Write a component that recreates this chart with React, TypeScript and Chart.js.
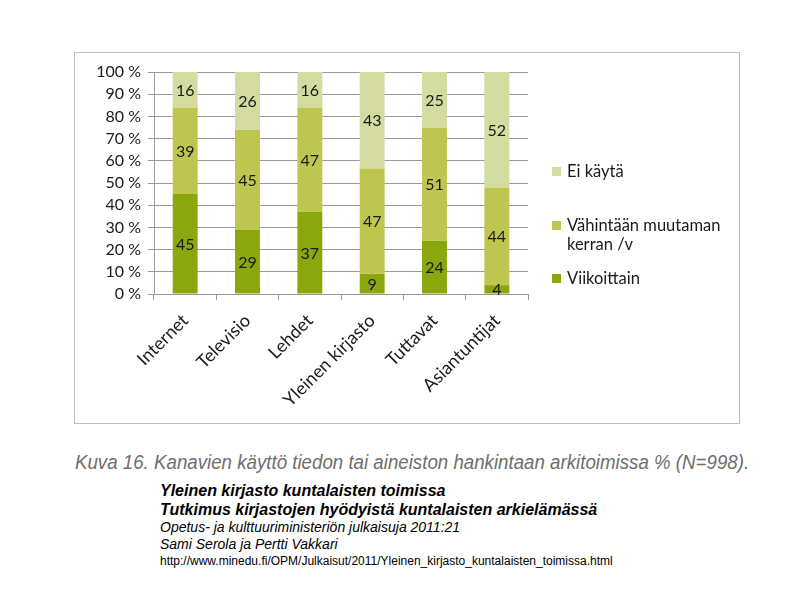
import React, { useEffect, useRef } from "react";
import { Chart, registerables } from "chart.js";

Chart.register(...registerables);

const categories = ["Internet", "Televisio", "Lehdet", "Yleinen kirjasto", "Tuttavat", "Asiantuntijat"];
const viikoittain = [45, 29, 37, 9, 24, 4];
const vahintaan = [39, 45, 47, 47, 51, 44];
const eiKayta = [16, 26, 16, 43, 25, 52];
const seriesNames = ["Viikoittain", "Vähintään muutaman kerran /v", "Ei käytä"];
const seriesColors = ["#8aa80e", "#bfc650", "#d3dba0"];
const yTicks = ["0 %", "10 %", "20 %", "30 %", "40 %", "50 %", "60 %", "70 %", "80 %", "90 %", "100 %"];

const FONT = "Lato, 'Open Sans', sans-serif";

const rawSeries = [viikoittain, vahintaan, eiKayta];
const totals = categories.map((_, i) => rawSeries.reduce((s, arr) => s + arr[i], 0));

const labelPlugin = {
  id: "segLabels",
  afterDatasetsDraw(chart: any) {
    const ctx = chart.ctx;
    ctx.save();
    ctx.font = `16px ${FONT}`;
    ctx.fillStyle = "#1a1a1a";
    ctx.textAlign = "center";
    ctx.textBaseline = "middle";
    chart.data.datasets.forEach((ds: any, di: number) => {
      const meta = chart.getDatasetMeta(di);
      meta.data.forEach((bar: any, i: number) => {
        const y = (bar.y + bar.base) / 2;
        ctx.fillText(String(rawSeries[di][i]), bar.x, y + 1);
      });
    });
    ctx.restore();
  },
};

function ChartBox() {
  const ref = useRef<HTMLCanvasElement>(null);
  useEffect(() => {
    const chart = new Chart(ref.current!, {
      type: "bar",
      data: {
        labels: categories,
        datasets: rawSeries.map((arr, di) => ({
          label: seriesNames[di],
          data: arr.map((v, i) => (v / totals[i]) * 100),
          backgroundColor: seriesColors[di],
          borderWidth: 0,
          barPercentage: 0.4,
          categoryPercentage: 1,
        })),
      },
      options: {
        animation: false,
        responsive: false,
        maintainAspectRatio: false,
        layout: { padding: { left: 0, right: 212, top: 20, bottom: 0 } },
        plugins: { legend: { display: false }, tooltip: { enabled: false } },
        scales: {
          x: {
            stacked: true,
            grid: { offset: true, drawOnChartArea: false, tickLength: 6, color: "#9a9a9a" },
            border: { color: "#9a9a9a" },
            ticks: {
              maxRotation: 45,
              minRotation: 45,
              autoSkip: false,
              color: "#1a1a1a",
              font: { family: FONT, size: 18 },
              padding: 10,
            },
            afterFit(scale: any) {
              scale.height = 130;
            },
          },
          y: {
            stacked: true,
            min: 0,
            max: 100,
            ticks: {
              stepSize: 10,
              color: "#1a1a1a",
              font: { family: FONT, size: 16 },
              padding: 7,
              callback: (_v: any, i: number) => yTicks[i],
            },
            grid: { color: "#9a9a9a", tickLength: 6 },
            border: { color: "#9a9a9a" },
            afterFit(scale: any) {
              scale.width = 80;
            },
          },
        },
      },
      plugins: [labelPlugin],
    });
    return () => chart.destroy();
  }, []);
  return <canvas ref={ref} width={666} height={372} style={{ position: "absolute", left: 0, top: 0, width: 666, height: 372 }} />;
}

export default function App() {
  useEffect(() => {
    document.body.style.margin = "0";
  }, []);
  const legendItems = [
    { name: ["Ei käytä"], color: seriesColors[2], top: 162 },
    { name: ["Vähintään muutaman", "kerran /v"], color: seriesColors[1], top: 216 },
    { name: ["Viikoittain"], color: seriesColors[0], top: 269 },
  ];
  return (
    <div style={{ position: "relative", width: 794, height: 595, background: "#fff", overflow: "hidden" }}>
      <div style={{ position: "absolute", left: 74, top: 52, width: 666, height: 372, boxSizing: "border-box", border: "1px solid #bdbdbd" }} />
      <div style={{ position: "absolute", left: 74, top: 52, width: 666, height: 372 }}>
        <ChartBox />
      </div>
      {legendItems.map((it, k) => (
        <div key={k} style={{ position: "absolute", left: 552, top: it.top, fontFamily: FONT, fontSize: 16.5, color: "#1a1a1a", lineHeight: "19px" }}>
          <div style={{ position: "absolute", left: 0, top: 5, width: 9, height: 9, background: it.color }} />
          <div style={{ marginLeft: 15, whiteSpace: "nowrap" }}>
            {it.name.map((l, j) => (
              <div key={j}>{l}</div>
            ))}
          </div>
        </div>
      ))}
      <div style={{ position: "absolute", left: 75, top: 451, fontFamily: "'Liberation Sans', Arial, sans-serif", fontStyle: "italic", fontSize: 20, color: "#6e6e6e", whiteSpace: "nowrap", transform: "scaleX(0.935)", transformOrigin: "left top" }}>
        Kuva 16. Kanavien käyttö tiedon tai aineiston hankintaan arkitoimissa % (N=998).
      </div>
      <div style={{ position: "absolute", left: 160, top: 481, fontFamily: "'Liberation Sans', Arial, sans-serif", whiteSpace: "nowrap", color: "#000" }}>
        <div style={{ fontStyle: "italic", fontWeight: "bold", fontSize: 16, lineHeight: "19px" }}>Yleinen kirjasto kuntalaisten toimissa</div>
        <div style={{ fontStyle: "italic", fontWeight: "bold", fontSize: 16, lineHeight: "19px" }}>Tutkimus kirjastojen hyödyistä kuntalaisten arkielämässä</div>
        <div style={{ fontStyle: "italic", fontSize: 14, lineHeight: "17px", marginTop: 0 }}>Opetus- ja kulttuuriministeriön julkaisuja 2011:21</div>
        <div style={{ fontStyle: "italic", fontSize: 14, lineHeight: "17px" }}>Sami Serola ja Pertti Vakkari</div>
        <div style={{ fontSize: 12, lineHeight: "16px" }}>http://www.minedu.fi/OPM/Julkaisut/2011/Yleinen_kirjasto_kuntalaisten_toimissa.html</div>
      </div>
    </div>
  );
}
